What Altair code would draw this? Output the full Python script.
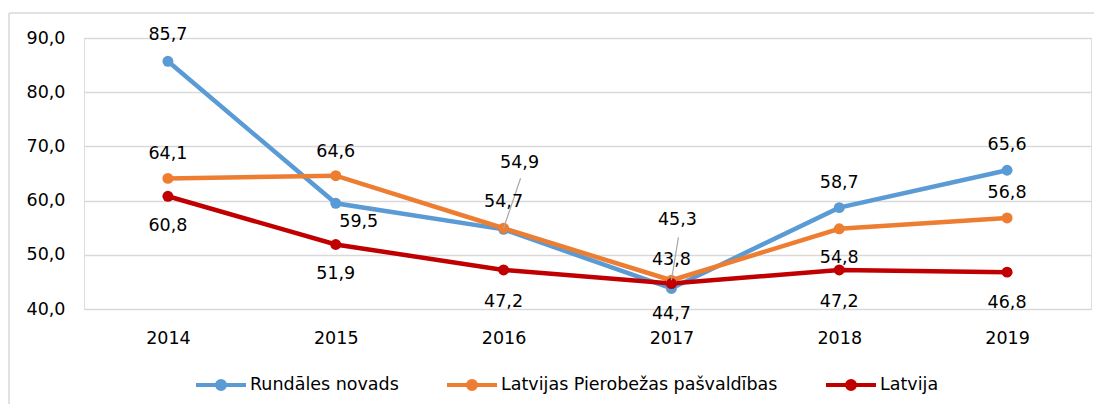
import altair as alt
import pandas as pd

years = ["2014", "2015", "2016", "2017", "2018", "2019"]
series_names = ["Rundāles novads", "Latvijas Pierobežas pašvaldības", "Latvija"]
rundale = [85.7, 59.5, 54.7, 43.8, 58.7, 65.6]
pierobeza = [64.1, 64.6, 54.9, 45.3, 54.8, 56.8]
latvija = [60.8, 51.9, 47.2, 44.7, 47.2, 46.8]
colors = ["#5B9BD5", "#ED7D31", "#C00000"]
y_ticks = [40, 50, 60, 70, 80, 90]

# label placement (style): (dx, dy) per series per year
label_offsets = {
    "Rundāles novads": [(0, -26), (23, 19), (0, -27), (0, -28), (0, -25), (0, -25)],
    "Latvijas Pierobežas pašvaldības": [(0, -24), (0, -24), (16, -65), (6, -60), (0, 29), (0, -25)],
    "Latvija": [(0, 30), (0, 29), (0, 32), (0, 30), (0, 32), (0, 31)],
}
# leader lines (style): (series, year index) -> end offset
leaders = {("Latvijas Pierobežas pašvaldības", 2): (17, -50),
           ("Latvijas Pierobežas pašvaldības", 3): (7, -43)}

rows = []
for name, vals in zip(series_names, [rundale, pierobeza, latvija]):
    for i, (yr, v) in enumerate(zip(years, vals)):
        dx, dy = label_offsets[name][i]
        rows.append({"year": yr, "series": name, "value": v, "dx": dx, "dy": dy, "idx": i})
df = pd.DataFrame(rows)

FONT = "DejaVu Sans"
FS = 17.5
W, H = 1007, 271

x_enc = alt.X("year:N", sort=years,
              scale=alt.Scale(type="point", padding=0.5),
              axis=alt.Axis(title=None, labelAngle=0, ticks=False, domain=False,
                            labelPadding=20, labelFontSize=FS, labelFont=FONT,
                            labelColor="#000000", grid=False))
y_enc = alt.Y("value:Q", scale=alt.Scale(domain=[40, 90], nice=False, zero=False),
              axis=alt.Axis(title=None, values=y_ticks, ticks=False, domain=False,
                            labelExpr="replace(format(datum.value, '.1f'), '.', ',')",
                            labelPadding=19, labelFontSize=FS, labelFont=FONT,
                            labelColor="#000000", gridColor="#D9D9D9", gridWidth=1.5))
color_enc = alt.Color("series:N", sort=series_names,
                      scale=alt.Scale(domain=series_names, range=colors),
                      legend=alt.Legend(title=None, orient="none", direction="horizontal",
                                        legendX=110, legendY=320,
                                        symbolType="M-1,0L1,0M-0.16,0A0.16,0.16,0,1,1,0.16,0A0.16,0.16,0,1,1,-0.16,0Z",
                                        symbolSize=2500, symbolStrokeWidth=4,
                                        labelFont=FONT, labelFontSize=FS, labelColor="#000000",
                                        labelLimit=400, columnPadding=40, labelOffset=2))

border_top = alt.Chart(alt.Data(values=[{}])).mark_rule(
    color="#D9D9D9", strokeWidth=1.5
).encode(x=alt.value(-75), x2=alt.value(1010), y=alt.value(-25))
border_left = alt.Chart(alt.Data(values=[{}])).mark_rule(
    color="#D9D9D9", strokeWidth=1.5
).encode(x=alt.value(-75), y=alt.value(-25), y2=alt.value(380))

lines = alt.Chart(df).mark_line(strokeWidth=4.5, point=alt.OverlayMarkDef(filled=True, size=120)).encode(
    x=x_enc, y=y_enc, color=color_enc, order=alt.Order("idx:Q"))

leader_layers = []
for (name, i), (ex, ey) in leaders.items():
    leader_layers.append(
        alt.Chart(df).transform_filter(
            (alt.datum.series == name) & (alt.datum.idx == i)
        ).mark_rule(color="#A6A6A6", strokeWidth=1.2, x2Offset=ex, y2Offset=ey).encode(
            x=alt.X("year:N", sort=years), x2="year:N",
            y="value:Q", y2="value:Q")
    )

text_layers = []
offsets = sorted(set(zip(df["dx"], df["dy"])))
for dx, dy in offsets:
    text_layers.append(
        alt.Chart(df).transform_filter(
            (alt.datum.dx == int(dx)) & (alt.datum.dy == int(dy))
        ).transform_calculate(
            label="replace(format(datum.value, '.1f'), '.', ',')"
        ).mark_text(dx=int(dx), dy=int(dy), font=FONT, fontSize=FS, color="#000000",
                    baseline="middle", align="center").encode(
            x=alt.X("year:N", sort=years), y="value:Q", text="label:N")
    )

chart = alt.layer(border_top, border_left, lines, *leader_layers, *text_layers).properties(
    width=W, height=H,
    autosize=alt.AutoSizeParams(type="none"),
    padding={"left": 76, "top": 30, "right": 3, "bottom": 95},
).configure_view(strokeWidth=0, stroke="transparent").configure(background="#FFFFFF")

chart.save("out.html", embed_options={"renderer": "svg", "actions": False})
